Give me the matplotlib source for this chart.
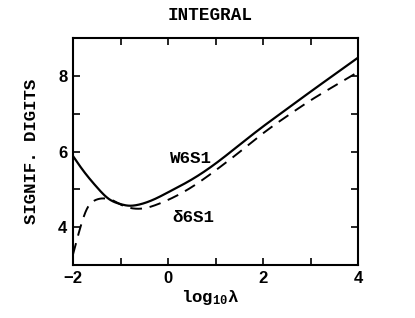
import matplotlib
matplotlib.use("Agg")
import matplotlib.pyplot as plt
import numpy as np

x_w = [-2.0, -1.8, -1.5, -1.25, -1.0, -0.85, -0.6, -0.25, 0.0, 0.5, 1.0, 1.5, 2.0, 2.5, 3.0, 3.5, 4.0]
y_w = [5.88, 5.52, 5.06, 4.75, 4.61, 4.57, 4.60, 4.76, 4.92, 5.26, 5.68, 6.17, 6.66, 7.12, 7.58, 8.03, 8.48]
x_d = [-2.0, -1.9, -1.8, -1.7, -1.6, -1.5, -1.35, -1.15, -1.0, -0.8, -0.5, -0.25, 0.0, 0.5, 1.0, 1.5, 2.0, 2.5, 3.0, 3.5, 4.0]
y_d = [3.28, 3.75, 4.18, 4.50, 4.66, 4.73, 4.76, 4.70, 4.60, 4.51, 4.50, 4.59, 4.72, 5.06, 5.50, 5.98, 6.48, 6.93, 7.35, 7.73, 8.10]

title = "INTEGRAL"
ylabel = "SIGNIF. DIGITS"
labels = ["W6S1", "\u03b46S1"]

mono = "Liberation Mono"
plt.rcParams["mathtext.default"] = "regular"
fig = plt.figure(figsize=(4.15, 3.18), dpi=100)
ax = fig.add_axes([73/415, 1-265/318, (358-73)/415, (265-38)/318])

def spline(xs, ys, num=600):
    # natural cubic spline through the read points
    x = np.asarray(xs, float); y = np.asarray(ys, float)
    n = len(x)
    h = np.diff(x)
    A = np.zeros((n, n)); b = np.zeros(n)
    A[0, 0] = 1; A[-1, -1] = 1
    for i in range(1, n-1):
        A[i, i-1] = h[i-1]; A[i, i] = 2*(h[i-1]+h[i]); A[i, i+1] = h[i]
        b[i] = 3*((y[i+1]-y[i])/h[i] - (y[i]-y[i-1])/h[i-1])
    c = np.linalg.solve(A, b)
    bb = (y[1:]-y[:-1])/h - h*(2*c[:-1]+c[1:])/3
    d = (c[1:]-c[:-1])/(3*h)
    xx = np.linspace(x[0], x[-1], num)
    idx = np.clip(np.searchsorted(x, xx) - 1, 0, n-2)
    dx = xx - x[idx]
    yy = y[idx] + bb[idx]*dx + c[idx]*dx**2 + d[idx]*dx**3
    return xx, yy

sx, sy = spline(x_w, y_w)
ax.plot(sx, sy, color="black", lw=1.6)
dx, dy = spline(x_d, y_d)
ax.plot(dx, dy, color="black", lw=1.4, dashes=(6, 4))

ax.set_xlim(-2, 4)
ax.set_ylim(3, 9)
ax.set_xticks([-2, 0, 2, 4])
ax.set_xticklabels(["\u22122", "0", "2", "4"])
ax.set_yticks([4, 6, 8])
ax.set_xticks([-1, 1, 3], minor=True)
ax.set_yticks([5, 7], minor=True)
ax.tick_params(which="both", direction="in", top=True, right=True, width=1.2)
ax.tick_params(which="major", length=5, labelsize=12, pad=4)
ax.tick_params(which="minor", length=5)
for lab in ax.get_xticklabels() + ax.get_yticklabels():
    lab.set_fontweight("bold")
    lab.set_family("Liberation Sans")
for s in ax.spines.values():
    s.set_linewidth(1.5)

fig.text(210/415, 1-16/318, title, ha="center", va="center", family=mono, fontweight="bold", fontsize=12.7)
ax.set_ylabel(ylabel, family=mono, fontweight="bold", fontsize=12.5, labelpad=14)
ax.set_xlabel("log$_{10}$\u03bb", family=mono, fontweight="bold", fontsize=12.5, labelpad=1)
ax.xaxis.set_label_coords(0.48, -0.1)
ax.text(0.04, 5.70, labels[0], family=mono, fontweight="bold", fontsize=12.6)
ax.text(0.1, 4.13, labels[1], family=mono, fontweight="bold", fontsize=12.6)

fig.savefig("out.png", dpi=100)
